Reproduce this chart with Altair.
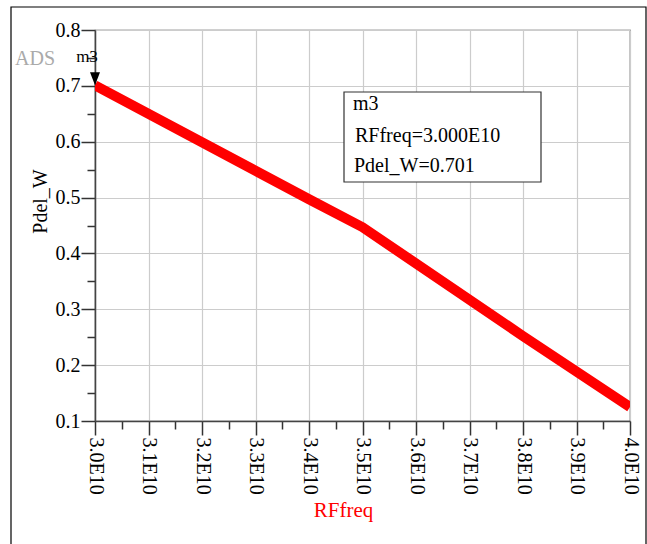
import altair as alt
import pandas as pd

# Data
freq = [3.0e10, 3.4e10, 3.5e10, 3.8e10, 4.0e10]
pdel = [0.701, 0.497, 0.447, 0.252, 0.125]

x_major = [3.0e10, 3.1e10, 3.2e10, 3.3e10, 3.4e10, 3.5e10, 3.6e10, 3.7e10, 3.8e10, 3.9e10, 4.0e10]
x_minor = [3.05e10, 3.15e10, 3.25e10, 3.35e10, 3.45e10, 3.55e10, 3.65e10, 3.75e10, 3.85e10, 3.95e10]
y_major = [0.1, 0.2, 0.3, 0.4, 0.5, 0.6, 0.7, 0.8]
y_minor = [0.15, 0.25, 0.35, 0.45, 0.55, 0.65, 0.75]

marker_freq = [3.0e10]
marker_val = [0.701]

FONT = "Liberation Serif"

df = pd.DataFrame({"RFfreq": freq, "Pdel_W": pdel})
mk = pd.DataFrame({"RFfreq": marker_freq, "Pdel_W": marker_val})
one = pd.DataFrame({"a": [0]})

xscale = alt.Scale(domain=[3.0e10, 4.0e10], nice=False, zero=False)
yscale = alt.Scale(domain=[0.1, 0.8], nice=False, zero=False)

main_x_axis = alt.Axis(
    values=x_major, labelExpr="format(datum.value/1e10, '.1f') + 'E10'",
    labelAngle=90, labelFont=FONT, labelFontSize=20, labelColor="black",
    labelPadding=2, tickSize=14, tickColor="#333", tickWidth=1.5,
    domainColor="#444", domainWidth=1.5, grid=True, gridColor="#cccccc",
    gridWidth=1.2, orient="bottom", labelFlush=False, labelOverlap=False,
    title="RFfreq", titleFont=FONT, titleFontSize=21, titleFontWeight="normal",
    titleColor="red", titleX=248, titleY=89, titleAlign="center",
    titleBaseline="middle", titleAnchor="start",
)
main_y_axis = alt.Axis(
    values=y_major, format=".1f", labelFont=FONT, labelFontSize=20,
    labelColor="black", labelPadding=1, tickSize=14, tickColor="#333",
    tickWidth=1.5, domainColor="#444", domainWidth=1.5, grid=True,
    gridColor="#cccccc", gridWidth=1.2, orient="left", labelFlush=False,
    labelOverlap=False,
    title="Pdel_W", titleFont=FONT, titleFontSize=20, titleFontWeight="normal",
    titleColor="black", titleAngle=-90, titleX=-55, titleY=171,
    titleAlign="center", titleBaseline="middle", titleAnchor="start",
)
minor_x_axis = alt.Axis(
    values=x_minor, labels=False, tickSize=8, tickColor="#333", tickWidth=1.5,
    domain=False, grid=False, title=None, orient="bottom",
)
minor_y_axis = alt.Axis(
    values=y_minor, labels=False, tickSize=8, tickColor="#333", tickWidth=1.5,
    domain=False, grid=False, title=None, orient="left",
)

line = alt.Chart(df).mark_line(
    color="red", strokeWidth=10, strokeCap="butt", clip=True
).encode(
    x=alt.X("RFfreq:Q", scale=xscale, axis=main_x_axis),
    y=alt.Y("Pdel_W:Q", scale=yscale, axis=main_y_axis),
)

minor = alt.Chart(df).mark_line(opacity=0).encode(
    x=alt.X("RFfreq:Q", scale=xscale, axis=minor_x_axis),
    y=alt.Y("Pdel_W:Q", scale=yscale, axis=minor_y_axis),
)

marker = alt.Chart(mk).mark_point(
    shape="M-1,-2.6L1,-2.6L0,0Z", filled=True, size=100, color="black", opacity=1
).encode(
    x=alt.X("RFfreq:Q", scale=xscale, axis=None),
    y=alt.Y("Pdel_W:Q", scale=yscale, axis=None),
)

marker_name = alt.Chart(mk).mark_text(
    text="m3", font=FONT, fontSize=17, color="black", align="center",
    baseline="alphabetic", dx=-8, dy=-23,
).encode(
    x=alt.X("RFfreq:Q", scale=xscale, axis=None),
    y=alt.Y("Pdel_W:Q", scale=yscale, axis=None),
)

box = alt.Chart(one).mark_rect(
    fill="white", stroke="#333", strokeWidth=1.2
).encode(
    x=alt.value(249), x2=alt.value(446), y=alt.value(62), y2=alt.value(152)
)

box_lines = [
    ("m3", 258, 80),
    ("RFfreq=%.3fE10" % (marker_freq[0] / 1e10), 260, 112),
    ("Pdel_W=%.3f" % marker_val[0], 259, 142),
]
box_texts = [
    alt.Chart(one).mark_text(
        text=t, font=FONT, fontSize=20, color="black", align="left",
        baseline="alphabetic",
    ).encode(x=alt.value(xx), y=alt.value(yy))
    for t, xx, yy in box_lines
]

ads = alt.Chart(one).mark_text(
    text="ADS", font=FONT, fontSize=20, color="#aaaaaa", align="left",
    baseline="alphabetic",
).encode(x=alt.value(-80), y=alt.value(35))

border = alt.Chart(one).mark_rect(
    fillOpacity=0, stroke="black", strokeWidth=1.2
).encode(
    x=alt.value(-84), x2=alt.value(551), y=alt.value(-23), y2=alt.value(520)
)

chart = alt.layer(
    border, minor, line, marker, marker_name, box, *box_texts, ads
).resolve_axis(
    x="independent", y="independent"
).properties(
    width=535, height=391,
    autosize=alt.AutoSizeParams(type="none"),
    padding={"left": 95, "top": 30, "right": 17, "bottom": 123},
    background="white",
).configure_view(
    stroke="#444", strokeWidth=1.2
)

chart.save("out.html", embed_options={"renderer": "svg", "actions": False})
